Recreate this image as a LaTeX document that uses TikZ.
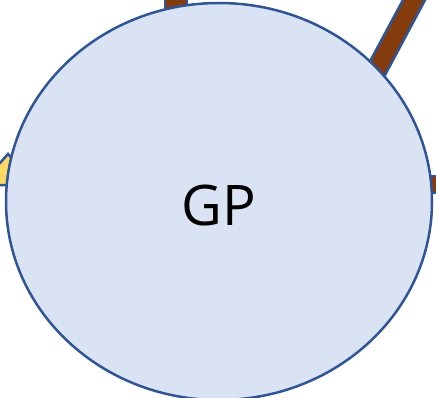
\documentclass[tikz,border=0pt]{standalone}
\usepackage{fontspec}
\setmainfont{Open Sans}
\usetikzlibrary{shapes.geometric}
\definecolor{gpfill}{HTML}{DAE3F3}
\definecolor{gpline}{HTML}{2F5597}
\definecolor{barfill}{HTML}{843C0C}
\definecolor{arrfill}{HTML}{FFD966}
\tikzset{
  bar/.style={fill=barfill,draw=gpline,line width=2.5pt,line join=miter},
  yel/.style={fill=arrfill,draw=gpline,line width=2.5pt},
  gp/.style={ellipse,fill=gpfill,draw=gpline,line width=2.5pt,inner sep=0pt,
    minimum width=426pt,minimum height=397pt}
}
\begin{document}
\begin{tikzpicture}[x=1pt,y=-1pt]
\useasboundingbox (0,0) rectangle (436,397);
\clip (0,0) rectangle (436,397);
% bars behind the ellipse
\draw[bar] (165,-10) -- (165,40) -- (187,40) -- (187,-10) -- cycle;
\draw[bar] (407.3,-8) -- (360,80) -- (377,90) -- (429.3,-8) -- cycle;
\draw[bar] (400,176) -- (445,176) -- (445,193) -- (400,193) -- cycle;
\draw[yel] (-10,163) -- (0,163) -- (8,154) -- (40,190) -- (40,185) -- (-10,185) -- cycle;
\node[gp] (gp) at (219,201.5) {};
\node[font=\fontsize{56}{64}\selectfont,inner sep=0pt,anchor=base] (gpt) at (219,225) {GP};
\end{tikzpicture}
\end{document}
